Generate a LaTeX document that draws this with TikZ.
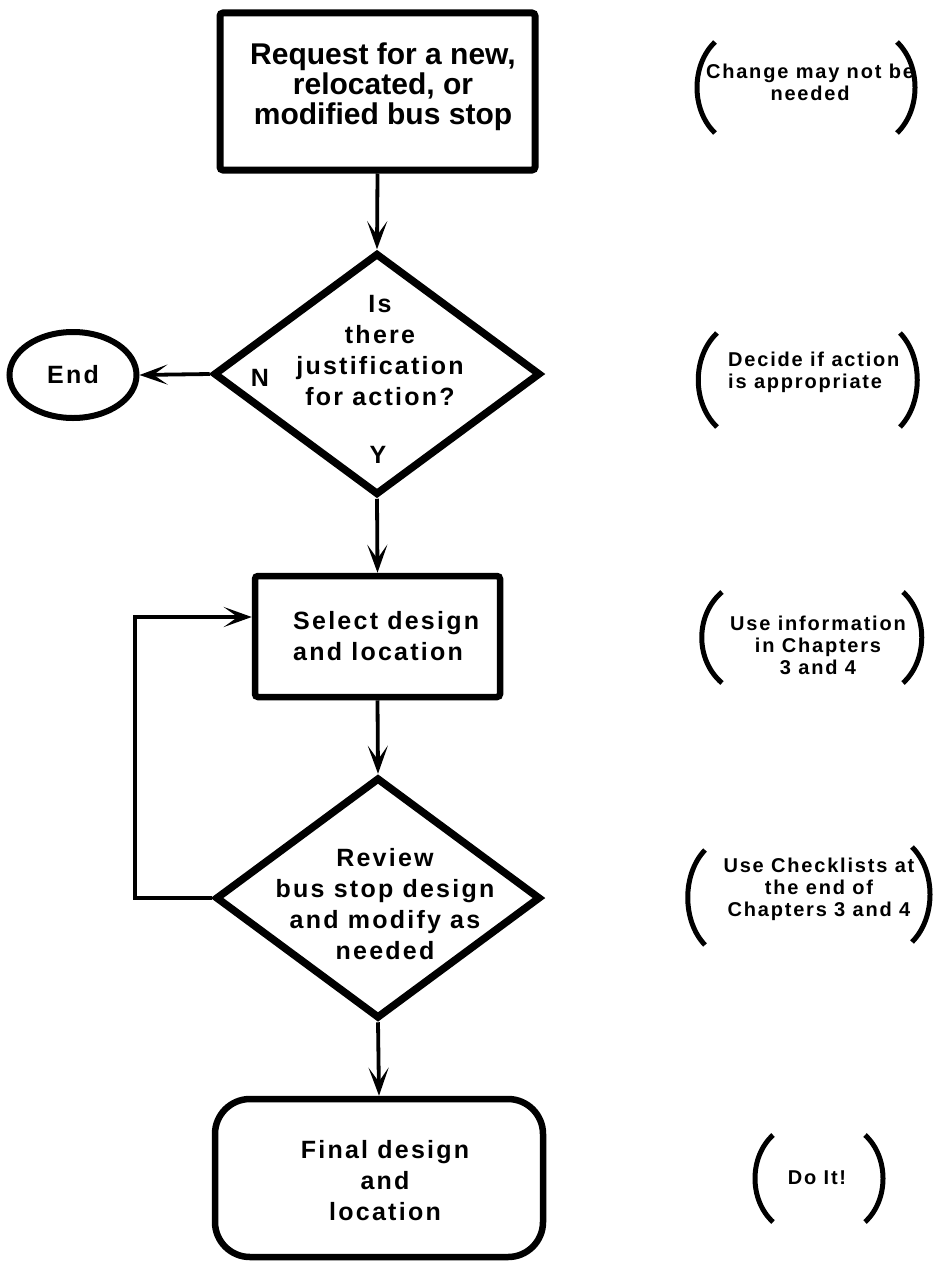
\documentclass[tikz,border=0pt]{standalone}
\usepackage{fontspec}
\setmainfont{Liberation Sans}
\newfontfamily\lsfont{Liberation Sans}[LetterSpace=9]
\usetikzlibrary{shapes.geometric,arrows.meta}
\begin{document}
\begin{tikzpicture}[x=1pt,y=-1pt,
  conn/.style={line width=3.8pt,-{Stealth[length=28pt,width=20pt,inset=14pt]}},
  procbox/.style={draw,line width=7pt,rounded corners=3pt,inner sep=0pt},
  decision/.style={draw,diamond,line width=7.5pt,inner sep=0pt},
  bigtxt/.style={font=\bfseries\fontsize{30}{30}\selectfont,align=center,inner sep=0pt},
  midtxt/.style={font=\lsfont\bfseries\fontsize{25}{31}\selectfont,align=center,inner sep=0pt},
  smalltxt/.style={font=\lsfont\bfseries\fontsize{20}{22}\selectfont,align=center,inner sep=0pt},
  paren/.style={line width=5pt}
]
\useasboundingbox (0,0) rectangle (935,1263);

% flow nodes
\node[procbox, minimum width=315pt, minimum height=157pt] (box1) at (377.5,91.5) {};
\node[bigtxt] (t1) at (383,87) {Request for a new,\\relocated, or\\modified bus stop};

\node[decision, minimum width=327pt, minimum height=242pt] (d1) at (377,374) {};
\node[midtxt] (t2) at (380,351) {Is\\there\\justification\\for action?};
\node[midtxt] (lblN) at (260,378) {N};
\node[midtxt] (lblY) at (378,455) {Y};

\node[draw, ellipse, line width=6pt, minimum width=127pt, minimum height=86pt, inner sep=0pt,
      font=\lsfont\bfseries\fontsize{25}{31}\selectfont] (end) at (73,375) {End};

\node[procbox, line width=6.5pt, minimum width=245pt, minimum height=121pt] (box2) at (377.5,636.5) {};
\node[midtxt, align=left, anchor=west] (t3) at (293,636) {Select design\\and location};

\node[decision, minimum width=325pt, minimum height=241pt] (d2) at (378,898) {};
\node[midtxt] (t4) at (385,904) {Review\\bus stop design\\and modify as\\needed};

\node[procbox, line width=6.5pt, rounded corners=35pt, minimum width=328pt, minimum height=158pt] (box3) at (379,1178) {};
\node[midtxt] (t5) at (385,1181) {Final design\\and\\location};

% connectors
\draw[conn] (box1.south) -- (d1.north);
\draw[conn] (d1.west) -- (end.east);
\draw[conn] (d1.south) -- (box2.north);
\draw[conn] (box2.south) -- (d2.north);
\draw[conn] (d2.south) -- (box3.north);
\coordinate (loopc) at (135,617);
\draw[conn] (d2.west) -| (loopc) -- (loopc -| box2.west);

% annotations
\node[smalltxt] (a1) at (810,82) {Change may not be\\needed};
\draw[paren] (715,42) .. controls (691,65) and (691,110) .. (715,133);
\draw[paren] (897,42) .. controls (921,65) and (921,110) .. (897,133);

\node[smalltxt, align=left, anchor=west] (a2) at (728,372) {Decide if action\\is appropriate};
\draw[paren] (717,333) .. controls (692,357) and (692,403) .. (717,427);
\draw[paren] (900,333) .. controls (923,357) and (923,403) .. (900,427);

\node[smalltxt] (a3) at (818,645) {Use information\\in Chapters\\3 and 4};
\draw[paren] (722,592) .. controls (695,615) and (695,660) .. (722,683);
\draw[paren] (903,592) .. controls (928,615) and (928,660) .. (903,683);

\node[smalltxt] (a4) at (819,889) {Use Checklists at\\the end of\\Chapters 3 and 4};
\draw[paren] (705,850) .. controls (682,874) and (682,921) .. (705,945);
\draw[paren] (912,847) .. controls (936,871) and (936,918) .. (912,942);

\node[smalltxt] (a5) at (817,1178) {Do It!};
\draw[paren] (773,1135) .. controls (749,1157) and (749,1200) .. (773,1222);
\draw[paren] (865,1135) .. controls (889,1157) and (889,1200) .. (865,1222);
\end{tikzpicture}
\end{document}
